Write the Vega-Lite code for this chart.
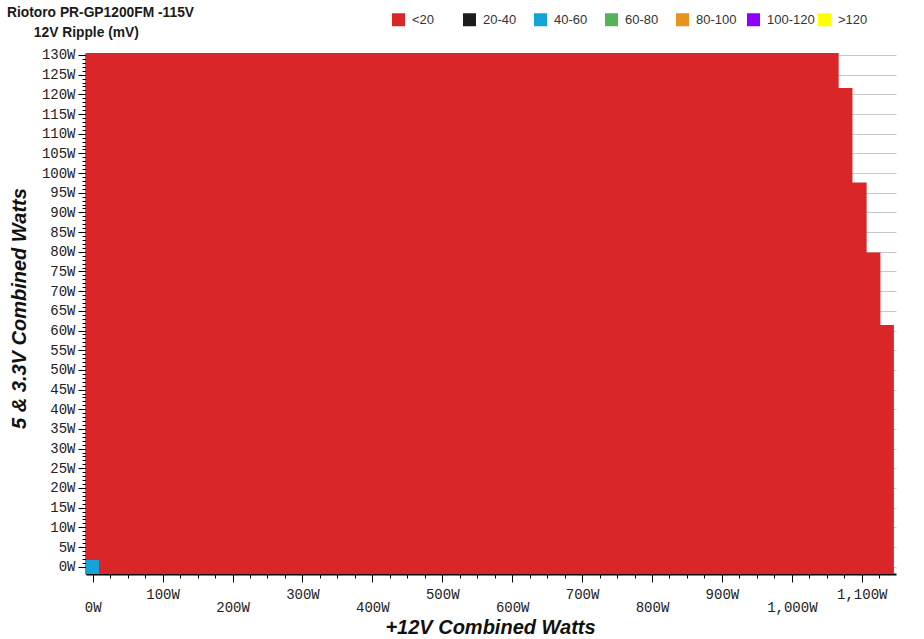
{
  "$schema": "https://vega.github.io/schema/vega-lite/v6.json",
  "width": 810,
  "height": 521,
  "autosize": {"type": "none"},
  "padding": {"left": 86, "top": 53, "right": 28, "bottom": 65},
  "background": "white",
  "title": {
    "text": ["Riotoro PR-GP1200FM -115V", "\u200b\u00a0\u00a0\u00a0\u00a0\u00a0\u00a0\u00a012V Ripple (mV)"],
    "anchor": "start",
    "frame": "group",
    "dx": -79,
    "dy": 41,
    "offset": 14,
    "font": "Liberation Sans",
    "fontSize": 13.8,
    "fontWeight": "bold",
    "color": "#1a1a1a",
    "lineHeight": 20
  },
  "config": {
    "view": {"stroke": null},
    "axis": {
      "domainColor": "#000000",
      "domainWidth": 2,
      "tickColor": "#000000",
      "labelFont": "Liberation Mono",
      "labelFontSize": 14,
      "labelColor": "#222222"
    }
  },
  "data": {
    "values": [
      {"x": -9.58, "x2": 1067, "y": -1.85, "y2": 130.5, "c": "<20"},
      {"x": -9.58, "x2": 1086.7, "y": -1.85, "y2": 121.6, "c": "<20"},
      {"x": -9.58, "x2": 1107, "y": -1.85, "y2": 97.6, "c": "<20"},
      {"x": -9.58, "x2": 1126.7, "y": -1.85, "y2": 79.8, "c": "<20"},
      {"x": -9.58, "x2": 1146, "y": -1.85, "y2": 61.4, "c": "<20"},
      {"x": -9.58, "x2": 9, "y": -1.85, "y2": 1.7, "c": "40-60"}
    ]
  },
  "layer": [
    {
      "mark": {"type": "rect"},
      "encoding": {
        "x": {
          "field": "x", "type": "quantitative",
          "scale": {"domain": [-9.58, 1149], "nice": false, "zero": false},
          "axis": {
            "orient": "bottom",
            "values": [0, 100, 200, 300, 400, 500, 600, 700, 800, 900, 1000, 1100],
            "labelExpr": "format(datum.value, ',') + 'W'",
            "tickSize": 8,
            "labelPadding": {"expr": "datum.value % 200 == 0 ? 18 : 5"},
            "labelBaseline": "top",
            "grid": false,
            "title": "+12V Combined Watts",
            "titleFont": "Liberation Sans",
            "titleFontSize": 20,
            "titleFontWeight": "bold",
            "titleFontStyle": "italic",
            "titleColor": "#111111",
            "titleX": 404,
            "titleY": 59,
            "titleBaseline": "alphabetic",
            "titleAnchor": "middle"
          }
        },
        "x2": {"field": "x2"},
        "y": {
          "field": "y", "type": "quantitative",
          "scale": {"domain": [-1.85, 130.5], "nice": false, "zero": false},
          "axis": {
            "orient": "left",
            "values": [0, 5, 10, 15, 20, 25, 30, 35, 40, 45, 50, 55, 60, 65, 70, 75, 80, 85, 90, 95, 100, 105, 110, 115, 120, 125, 130],
            "labelExpr": "datum.value + 'W'",
            "tickSize": 8,
            "labelPadding": 3,
            "grid": true,
            "gridColor": "#c8c8c8",
            "gridWidth": 1,
            "title": "5 & 3.3V Combined Watts",
            "titleFont": "Liberation Sans",
            "titleFontSize": 20,
            "titleFontWeight": "bold",
            "titleFontStyle": "italic",
            "titleColor": "#111111",
            "titleAngle": -90,
            "titleX": -61,
            "titleY": 255,
            "titleBaseline": "alphabetic",
            "titleAnchor": "middle"
          }
        },
        "y2": {"field": "y2"},
        "color": {
          "field": "c", "type": "nominal",
          "scale": {
            "domain": ["<20", "20-40", "40-60", "60-80", "80-100", "100-120", ">120"],
            "range": ["#da2629", "#1c1c1c", "#13a3d6", "#55b35b", "#e8911d", "#9000ff", "#ffff00"]
          },
          "legend": {
            "orient": "none",
            "legendX": 306,
            "legendY": -40,
            "direction": "horizontal",
            "columns": 7,
            "gridAlign": "all",
            "columnPadding": 3,
            "padding": 0,
            "title": null,
            "symbolType": "square",
            "symbolSize": 169,
            "symbolStrokeWidth": 0,
            "symbolOpacity": 1,
            "labelFont": "Liberation Sans",
            "labelFontSize": 13,
            "labelColor": "#333333",
            "labelOffset": 7
          }
        }
      }
    },
    {
      "mark": {"type": "rect", "opacity": 0},
      "encoding": {
        "x": {
          "field": "x", "type": "quantitative",
          "axis": {
            "orient": "bottom",
            "values": [0, 25, 50, 75, 100, 125, 150, 175, 200, 225, 250, 275, 300, 325, 350, 375, 400, 425, 450, 475, 500, 525, 550, 575, 600, 625, 650, 675, 700, 725, 750, 775, 800, 825, 850, 875, 900, 925, 950, 975, 1000, 1025, 1050, 1075, 1100, 1125],
            "tickSize": 4,
            "labels": false,
            "domain": false,
            "grid": false,
            "title": null
          }
        },
        "x2": {"field": "x2"},
        "y": {
          "field": "y", "type": "quantitative",
          "axis": {
            "orient": "left",
            "values": [0, 1, 2, 3, 4, 5, 6, 7, 8, 9, 10, 11, 12, 13, 14, 15, 16, 17, 18, 19, 20, 21, 22, 23, 24, 25, 26, 27, 28, 29, 30, 31, 32, 33, 34, 35, 36, 37, 38, 39, 40, 41, 42, 43, 44, 45, 46, 47, 48, 49, 50, 51, 52, 53, 54, 55, 56, 57, 58, 59, 60, 61, 62, 63, 64, 65, 66, 67, 68, 69, 70, 71, 72, 73, 74, 75, 76, 77, 78, 79, 80, 81, 82, 83, 84, 85, 86, 87, 88, 89, 90, 91, 92, 93, 94, 95, 96, 97, 98, 99, 100, 101, 102, 103, 104, 105, 106, 107, 108, 109, 110, 111, 112, 113, 114, 115, 116, 117, 118, 119, 120, 121, 122, 123, 124, 125, 126, 127, 128, 129, 130],
            "tickSize": 4,
            "labels": false,
            "domain": false,
            "grid": false,
            "title": null
          }
        },
        "y2": {"field": "y2"}
      }
    }
  ],
  "resolve": {"axis": {"x": "independent", "y": "independent"}}
}
